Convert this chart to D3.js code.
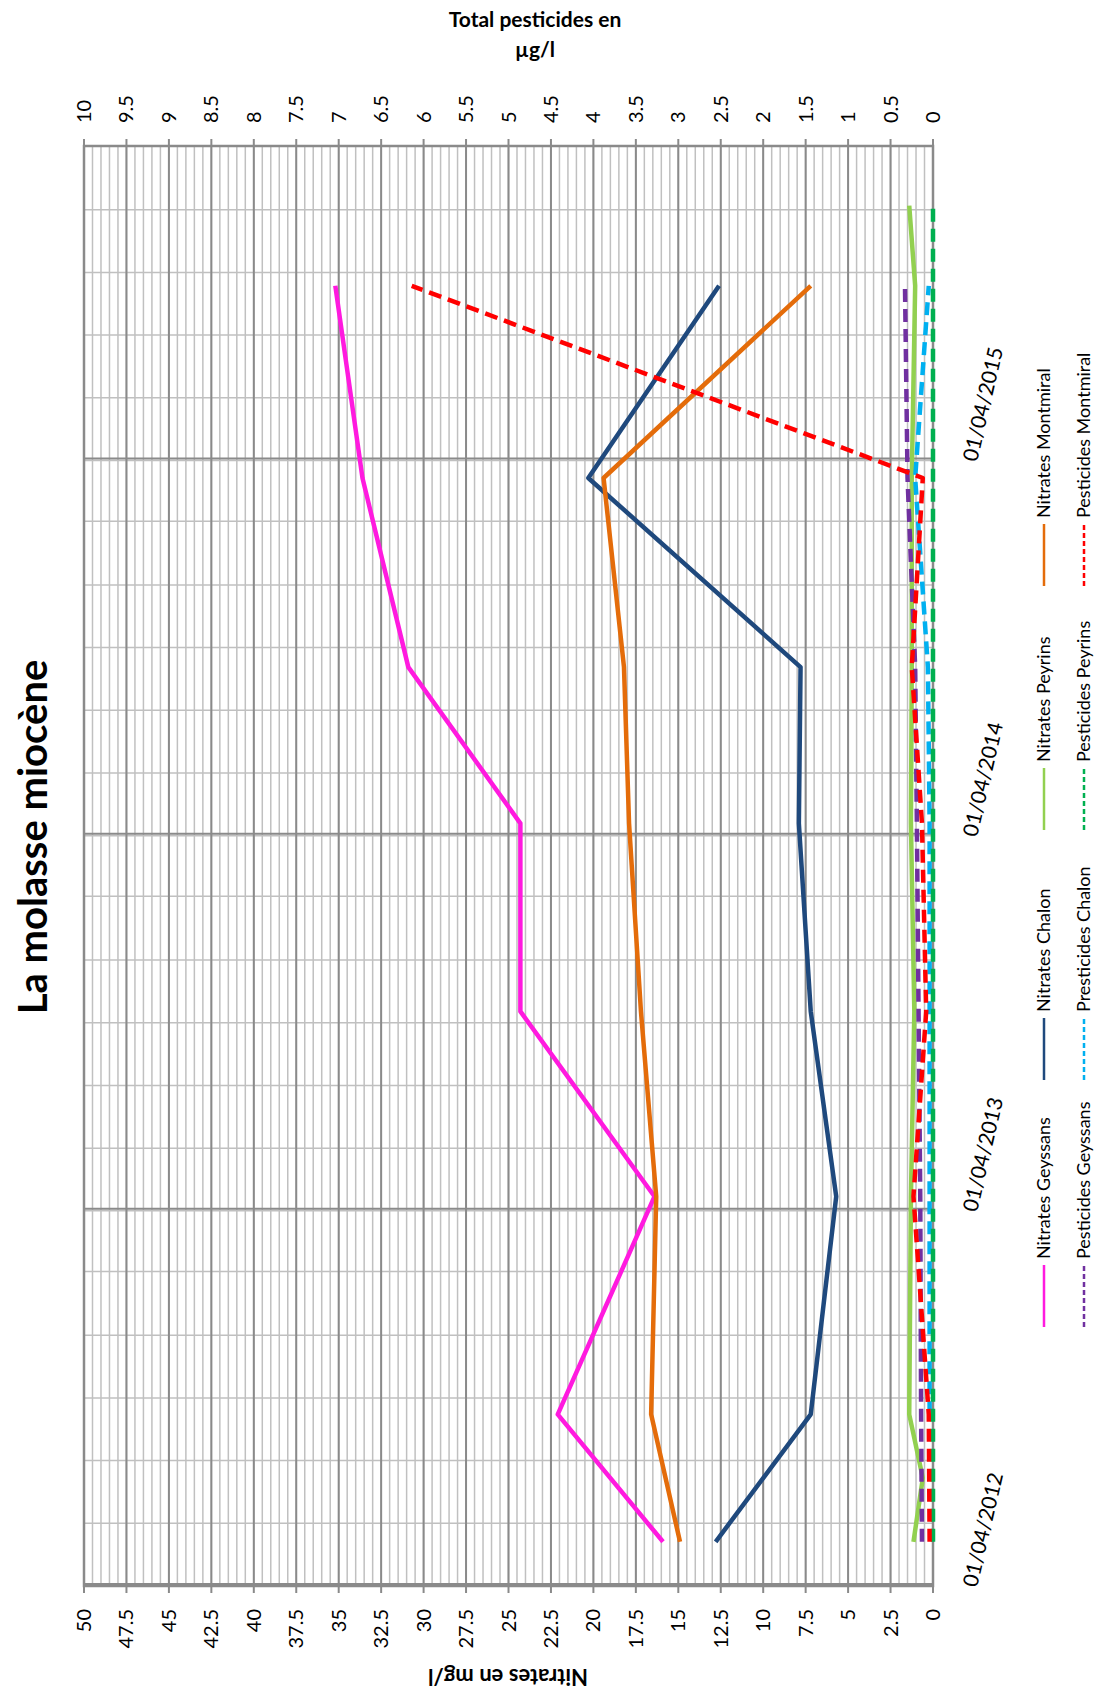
<!DOCTYPE html>
<html lang="fr">
<head>
<meta charset="UTF-8">
<title>La molasse miocène</title>
<style>
  body { margin: 0; background: #fff; }
  svg text { font-family: Lato, "Open Sans", sans-serif; fill: #000; }
</style>
<script src="https://cdn.jsdelivr.net/npm/d3@7"></script>
</head>
<body>
<svg width="1095" height="1692"></svg>
<script>
// dates of sampling (Geyssans, Chalon, Montmiral)
var dates = ["2012-05-14", "2012-09-15", "2013-04-15", "2013-10-12", "2014-04-13", "2014-09-12", "2015-03-15", "2015-09-18"];
// Peyrins has its own dates
var datesPeyrins = ["2012-05-14", "2012-07-15", "2012-09-15", "2013-04-15", "2013-10-12", "2014-04-13", "2014-09-12", "2015-03-15", "2015-09-18", "2015-12-05"];

var nitratesGeyssans = [15.9, 22.1, 16.4, 24.3, 24.3, 30.9, 33.6, 35.2];
var nitratesChalon = [12.8, 7.2, 5.7, 7.2, 7.9, 7.8, 20.3, 12.6];
var nitratesPeyrins = [1.15, 0.6, 1.4, 1.3, 1.1, 1.3, 1.25, 1.25, 1.05, 1.4];
var nitratesMontmiral = [14.9, 16.6, 16.3, 17.2, 17.9, 18.2, 19.4, 7.2];

var pestGeyssans = [0.13, 0.14, 0.15, 0.17, 0.19, 0.21, 0.3, 0.33];
var pestChalon = [null, 0.04, 0.04, 0.04, 0.04, 0.06, 0.21, 0.05];
var pestPeyrins = [0, 0, 0, 0, 0, 0, 0, 0, 0, 0];
var pestMontmiral = [0.04, 0.05, 0.23, 0.08, 0.13, 0.25, 0.12, 6.14];

var nitrateTicks = d3.range(0, 50.01, 2.5);
var pestTicks = d3.range(0, 10.01, 0.5);
var yearTicks = ["2012-04-01", "2013-04-01", "2014-04-01", "2015-04-01"];

var parse = d3.timeParse("%Y-%m-%d");
var fmt = d3.timeFormat("%d/%m/%Y");

var svg = d3.select("svg");
var pLeft = 84, pRight = 933, pTop = 146, pBottom = 1586;

var xN = d3.scaleLinear().domain([0, 50]).range([pRight, pLeft]);
var xP = d3.scaleLinear().domain([0, 10]).range([pRight, pLeft]);
var y = d3.scaleTime().domain([parse("2012-04-01"), parse("2016-02-01")]).range([pBottom, pTop]);

// grid
var grid = svg.append("g");
grid.selectAll(".vmin").data(d3.range(0, 50.01, 0.5)).enter().append("line")
  .attr("x1", function(d) { return xN(d); }).attr("x2", function(d) { return xN(d); })
  .attr("y1", pTop).attr("y2", pBottom)
  .attr("stroke", "#c0c0c0").attr("stroke-width", 1.5);
grid.selectAll(".hmin").data(d3.timeMonth.range(parse("2012-04-01"), parse("2016-02-02"), 2)).enter().append("line")
  .attr("x1", pLeft).attr("x2", pRight)
  .attr("y1", function(d) { return y(d); }).attr("y2", function(d) { return y(d); })
  .attr("stroke", "#c0c0c0").attr("stroke-width", 1.5);
grid.selectAll(".vmaj").data(nitrateTicks).enter().append("line")
  .attr("x1", function(d) { return xN(d); }).attr("x2", function(d) { return xN(d); })
  .attr("y1", pTop).attr("y2", pBottom)
  .attr("stroke", "#8a8a8a").attr("stroke-width", 2);
grid.selectAll(".hmaj").data(yearTicks.map(parse)).enter().append("line")
  .attr("x1", pLeft).attr("x2", pRight)
  .attr("y1", function(d) { return y(d) - 2; }).attr("y2", function(d) { return y(d) - 2; })
  .attr("stroke", "#8a8a8a").attr("stroke-width", 2);
grid.append("rect").attr("x", pLeft).attr("y", pTop).attr("width", pRight - pLeft).attr("height", pBottom - pTop)
  .attr("fill", "none").attr("stroke", "#8a8a8a").attr("stroke-width", 2.5);

// axes: ticks
grid.selectAll(".tt").data(pestTicks).enter().append("line")
  .attr("x1", function(d) { return xP(d); }).attr("x2", function(d) { return xP(d); })
  .attr("y1", pTop).attr("y2", pTop - 7).attr("stroke", "#8a8a8a").attr("stroke-width", 2);
grid.selectAll(".bt").data(nitrateTicks).enter().append("line")
  .attr("x1", function(d) { return xN(d); }).attr("x2", function(d) { return xN(d); })
  .attr("y1", pBottom).attr("y2", pBottom + 7).attr("stroke", "#8a8a8a").attr("stroke-width", 2);

svg.selectAll(".tl").data(pestTicks).enter().append("text")
  .attr("transform", function(d) { return "translate(" + xP(d) + ",123) rotate(-90)"; })
  .attr("dy", "0.35em").attr("font-size", 20)
  .text(function(d) { return d; });
svg.selectAll(".bl").data(nitrateTicks).enter().append("text")
  .attr("transform", function(d) { return "translate(" + xN(d) + ",1609) rotate(-90)"; })
  .attr("dy", "0.35em").attr("text-anchor", "end").attr("font-size", 20)
  .text(function(d) { return d; });
svg.selectAll(".dl").data(yearTicks.map(parse)).enter().append("text")
  .attr("transform", function(d) { return "translate(977," + (y(d) + 2) + ") rotate(-77)"; })
  .attr("font-size", 21)
  .text(function(d) { return fmt(d); });

// titles
svg.append("text").attr("transform", "translate(47,837) rotate(-90)")
  .attr("text-anchor", "middle").attr("font-size", 40).attr("font-weight", "bold")
  .text("La molasse miocène");
svg.append("text").attr("x", 535).attr("y", 27).attr("text-anchor", "middle")
  .attr("font-size", 21).attr("font-weight", "bold").text("Total pesticides en");
svg.append("text").attr("x", 535).attr("y", 57).attr("text-anchor", "middle")
  .attr("font-size", 21).attr("font-weight", "bold").text("µg/l");
svg.append("text").attr("transform", "translate(508,1669) rotate(180)")
  .attr("text-anchor", "middle").attr("font-size", 22).attr("font-weight", "bold")
  .text("Nitrates en mg/l");

// series
var series = [
  { name: "Nitrates Geyssans", d: dates, v: nitratesGeyssans, x: xN, color: "#ff1adf", dash: null },
  { name: "Nitrates Chalon", d: dates, v: nitratesChalon, x: xN, color: "#1f497d", dash: null },
  { name: "Nitrates Peyrins", d: datesPeyrins, v: nitratesPeyrins, x: xN, color: "#92d050", dash: null },
  { name: "Nitrates Montmiral", d: dates, v: nitratesMontmiral, x: xN, color: "#e46c0a", dash: null },
  { name: "Pesticides Geyssans", d: dates, v: pestGeyssans, x: xP, color: "#7030a0", dash: "13,7" },
  { name: "Presticides Chalon", d: dates, v: pestChalon, x: xP, color: "#00b0f0", dash: "13,7" },
  { name: "Pesticides Peyrins", d: datesPeyrins, v: pestPeyrins, x: xP, color: "#00b050", dash: "13,7" },
  { name: "Pesticides Montmiral", d: dates, v: pestMontmiral, x: xP, color: "#ff0000", dash: "13,7" }
];

series.forEach(function(s) {
  var pts = s.d.map(function(d, i) { return [parse(d), s.v[i]]; })
    .filter(function(p) { return p[1] != null; });
  var line = d3.line().x(function(p) { return s.x(p[1]); }).y(function(p) { return y(p[0]); });
  svg.append("path").datum(pts).attr("d", line)
    .attr("fill", "none").attr("stroke", s.color).attr("stroke-width", 4.5)
    .attr("stroke-linejoin", "round")
    .attr("stroke-dasharray", s.dash);
});

// legend
var legendBottoms = [1327, 1080, 830, 586];
var legendCols = [1044, 1084];
var leg = svg.append("g");
series.forEach(function(s, i) {
  var cx = legendCols[Math.floor(i / 4)], b = legendBottoms[i % 4];
  leg.append("line").attr("x1", cx).attr("x2", cx).attr("y1", b).attr("y2", b - 62)
    .attr("stroke", s.color).attr("stroke-width", 2.5)
    .attr("stroke-dasharray", s.dash ? "5,3" : null);
  leg.append("text").attr("transform", "translate(" + cx + "," + (b - 68) + ") rotate(-90)")
    .attr("dy", "0.35em").attr("font-size", 18).text(s.name);
});
</script>
</body>
</html>
